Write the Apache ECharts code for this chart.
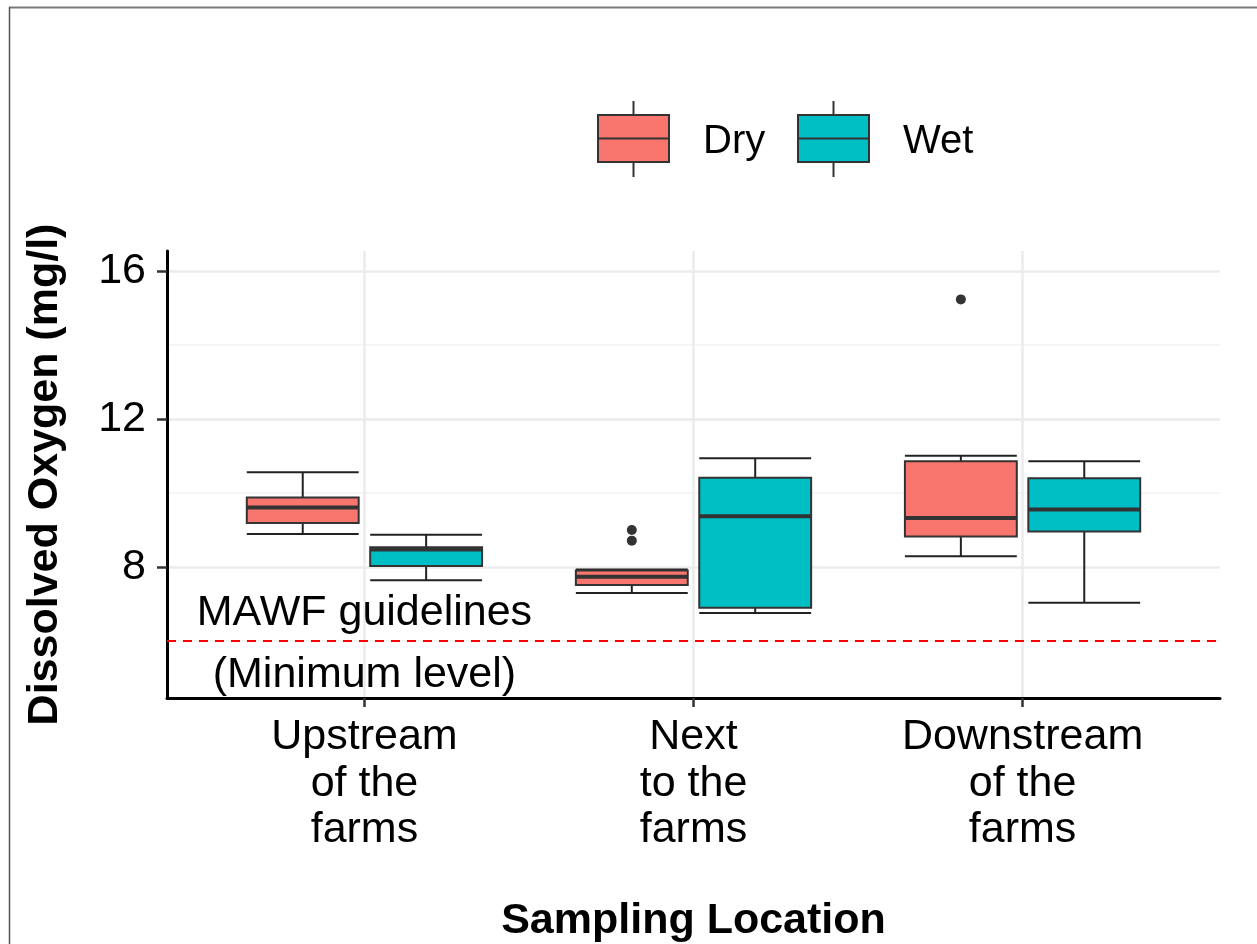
<!DOCTYPE html>
<html>
<head>
<meta charset="utf-8">
<title>Dissolved Oxygen by Sampling Location</title>
<script src="https://cdn.jsdelivr.net/npm/echarts@6/dist/echarts.min.js"></script>
<style>
  html, body { margin: 0; padding: 0; background: #ffffff; }
  #chart { width: 1257px; height: 944px; }
</style>
</head>
<body>
<div id="chart"></div>
<script>
// Sampling locations (x axis categories)
const categories = ['Upstream\nof the\nfarms', 'Next\nto the\nfarms', 'Downstream\nof the\nfarms'];

// Season groups
const groups = ['Dry', 'Wet'];
const groupColors = ['#F8766D', '#00BFC4'];

// Box statistics per location: [lower whisker, Q1, median, Q3, upper whisker]
const dryStats = [
  [8.89, 9.19, 9.61, 9.88, 10.56],
  [7.29, 7.51, 7.73, 7.90, 7.93],
  [8.29, 8.82, 9.32, 10.86, 11.01]
];
const wetStats = [
  [7.64, 8.02, 8.47, 8.53, 8.87],
  [6.75, 6.89, 9.37, 10.41, 10.94],
  [7.03, 8.96, 9.55, 10.40, 10.86]
];

// Outliers: [location index (1-based), value]
const dryOutliers = [[2, 9.00], [2, 8.71], [3, 15.24]];
const wetOutliers = [];

// Guideline (minimum level) and its annotation
const guideline = 6;
const guidelineNotes = [[1, 6.76, 'MAWF guidelines'], [1, 5.08, '(Minimum level)']];

// Axis ticks
const yTicks = [8, 12, 16];
const yMinorGrid = [6, 10, 14];

const FONT = "'Liberation Sans', Arial, Helvetica, sans-serif";
const FONT_SIZE = 43;
const DODGE = 0.1875;     // half distance between the two boxes of a location
const BOX_HALF = 0.17;    // half box width, in location units
const INK = '#333333';

function boxRenderer(offset, fill) {
  return function (params, api) {
    const x = api.value(0) + offset;
    const lo = api.value(1), q1 = api.value(2), med = api.value(3), q3 = api.value(4), hi = api.value(5);
    const left = api.coord([x - BOX_HALF, med])[0];
    const right = api.coord([x + BOX_HALF, med])[0];
    const cx = api.coord([x, med])[0];
    const y = v => api.coord([x, v])[1];
    const whisker = { stroke: '#222222', lineWidth: 2 };
    return {
      type: 'group',
      children: [
        { type: 'line', shape: { x1: cx, y1: y(hi), x2: cx, y2: y(q3) }, style: whisker },
        { type: 'line', shape: { x1: cx, y1: y(q1), x2: cx, y2: y(lo) }, style: whisker },
        { type: 'line', shape: { x1: left, y1: y(hi), x2: right, y2: y(hi) }, style: whisker },
        { type: 'line', shape: { x1: left, y1: y(lo), x2: right, y2: y(lo) }, style: whisker },
        { type: 'rect', shape: { x: left, y: y(q3), width: right - left, height: y(q1) - y(q3) },
          style: { fill: fill, stroke: INK, lineWidth: 2 } },
        { type: 'line', shape: { x1: left, y1: y(med), x2: right, y2: y(med) },
          style: { stroke: INK, lineWidth: 4 } }
      ]
    };
  };
}

function toRows(stats) {
  return stats.map((s, i) => [i + 1].concat(s));
}

// Legend keys drawn as small boxplot glyphs
function legendGraphics() {
  const items = [];
  const keyLeft = [598, 798];
  groups.forEach((name, i) => {
    const x0 = keyLeft[i];
    const w = 71, top = 115, h = 47;
    items.push(
      { type: 'line', shape: { x1: x0 + w / 2, y1: 101, x2: x0 + w / 2, y2: top }, style: { stroke: INK, lineWidth: 2 } },
      { type: 'line', shape: { x1: x0 + w / 2, y1: top + h, x2: x0 + w / 2, y2: 177 }, style: { stroke: INK, lineWidth: 2 } },
      { type: 'rect', shape: { x: x0, y: top, width: w, height: h }, style: { fill: groupColors[i], stroke: INK, lineWidth: 2 } },
      { type: 'line', shape: { x1: x0, y1: top + h / 2, x2: x0 + w, y2: top + h / 2 }, style: { stroke: INK, lineWidth: 2 } },
      { type: 'text', x: x0 + w + 34, y: top + h / 2 + 3,
        style: { text: name, font: '40px ' + FONT, fill: '#000', textVerticalAlign: 'middle' } }
    );
  });
  return items;
}

const chart = echarts.init(document.getElementById('chart'), null, { renderer: 'canvas' });

chart.setOption({
  animation: false,
  backgroundColor: '#ffffff',
  grid: { left: 167, right: 37, top: 251, bottom: 245, containLabel: false },
  xAxis: {
    type: 'value',
    min: 0.4,
    max: 3.6,
    axisLine: { show: true, onZero: false, lineStyle: { color: '#000', width: 3 } },
    axisTick: { show: true, customValues: [1, 2, 3], length: 9, lineStyle: { color: INK, width: 2.5 } },
    axisLabel: {
      customValues: [1, 2, 3],
      formatter: v => categories[Math.round(v) - 1] || '',
      margin: 16,
      fontFamily: FONT,
      fontSize: FONT_SIZE,
      lineHeight: 46.5,
      color: '#000',
      align: 'center'
    },
    splitLine: { show: false },
    name: 'Sampling Location',
    nameLocation: 'middle',
    nameGap: 202,
    nameTextStyle: { fontFamily: FONT, fontSize: FONT_SIZE, fontWeight: 'bold', color: '#000' }
  },
  yAxis: {
    type: 'value',
    min: 4.45,
    max: 16.55,
    axisLine: { show: true, onZero: false, lineStyle: { color: '#000', width: 3 } },
    axisTick: { show: true, customValues: yTicks, length: 10, lineStyle: { color: INK, width: 2.5 } },
    axisLabel: {
      customValues: yTicks,
      margin: 21,
      fontFamily: FONT,
      fontSize: FONT_SIZE,
      color: '#000'
    },
    splitLine: { show: false },
    name: 'Dissolved Oxygen (mg/l)',
    nameLocation: 'middle',
    nameGap: 100,
    nameTextStyle: { fontFamily: FONT, fontSize: FONT_SIZE, fontWeight: 'bold', color: '#000' }
  },
  graphic: [
    // frame edges
    { type: 'line', shape: { x1: 9, y1: 7.5, x2: 1257, y2: 7.5 }, style: { stroke: '#7a7a7a', lineWidth: 2 } },
    { type: 'line', shape: { x1: 9.5, y1: 7, x2: 9.5, y2: 944 }, style: { stroke: '#555555', lineWidth: 1.5 } }
  ].concat(legendGraphics()),
  series: [
    {
      // panel grid lines
      name: 'grid',
      type: 'line',
      data: [],
      z: 0,
      silent: true,
      markLine: {
        silent: true,
        z: 0,
        symbol: 'none',
        label: { show: false },
        animation: false,
        data: []
          .concat(yTicks.map(v => ({ yAxis: v, lineStyle: { color: '#ebebeb', width: 2.5, type: 'solid' } })))
          .concat(yMinorGrid.map(v => ({ yAxis: v, lineStyle: { color: '#f2f2f2', width: 1.5, type: 'solid' } })))
          .concat([1, 2, 3].map(v => ({ xAxis: v, lineStyle: { color: '#ebebeb', width: 2.5, type: 'solid' } })))
      }
    },
    {
      name: groups[0],
      type: 'custom',
      renderItem: boxRenderer(-DODGE, groupColors[0]),
      encode: { x: 0, y: [1, 2, 3, 4, 5] },
      data: toRows(dryStats),
      z: 3
    },
    {
      name: groups[1],
      type: 'custom',
      renderItem: boxRenderer(DODGE, groupColors[1]),
      encode: { x: 0, y: [1, 2, 3, 4, 5] },
      data: toRows(wetStats),
      z: 3
    },
    {
      name: 'Dry outliers',
      type: 'scatter',
      symbolSize: 10,
      itemStyle: { color: INK, opacity: 1 },
      data: dryOutliers.map(o => [o[0] - DODGE, o[1]]),
      z: 4
    },
    {
      name: 'Wet outliers',
      type: 'scatter',
      symbolSize: 10,
      itemStyle: { color: INK, opacity: 1 },
      data: wetOutliers.map(o => [o[0] + DODGE, o[1]]),
      z: 4
    },
    {
      // minimum-level guideline with its annotation
      name: 'guideline',
      type: 'scatter',
      symbolSize: 0,
      z: 2,
      silent: true,
      itemStyle: { opacity: 1 },
      data: guidelineNotes.map(n => ({ value: [n[0], n[1]], name: n[2] })),
      label: {
        show: true,
        position: 'inside',
        formatter: p => p.name,
        fontFamily: FONT,
        fontSize: FONT_SIZE,
        color: '#000000'
      },
      markLine: {
        silent: true,
        z: 2,
        symbol: 'none',
        label: { show: false },
        animation: false,
        data: [{ yAxis: guideline }],
        lineStyle: { color: '#ff0000', width: 2, type: [9, 7] }
      }
    }
  ]
});
</script>
</body>
</html>
